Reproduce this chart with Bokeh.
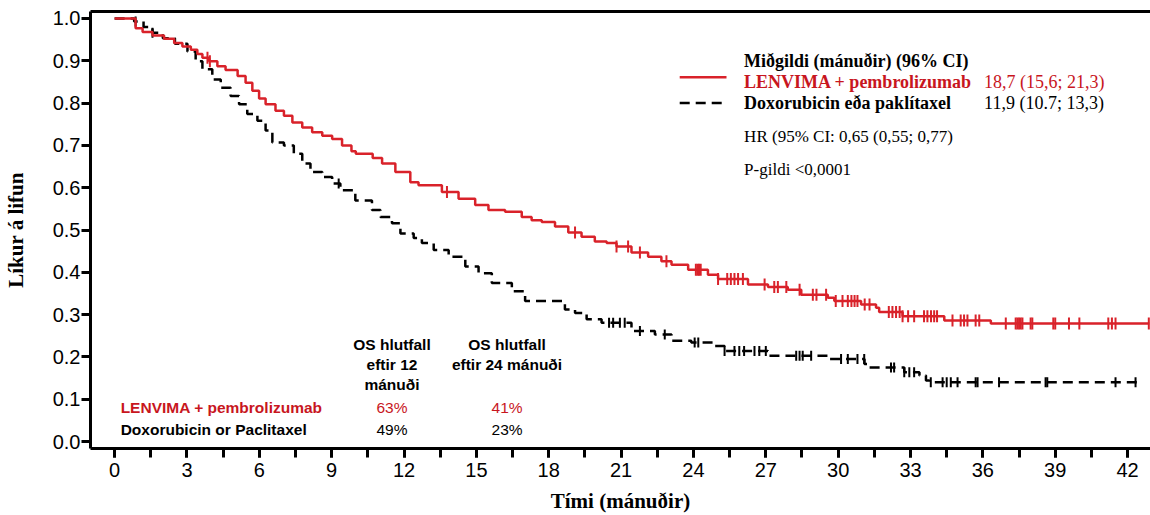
import numpy as np
from bokeh.plotting import figure
from bokeh.models import FixedTicker, LinearAxis, Range1d, NumeralTickFormatter
from bokeh.core.properties import value
from bokeh.embed import file_html
from bokeh.resources import INLINE

# ---------------- data ----------------
red_t = [0.0, 0.87, 1.16, 1.57, 2.05, 2.47, 2.81, 3.16, 3.43, 3.64, 3.92, 4.26, 4.60,
         5.10, 5.43, 5.71, 5.99, 6.26, 6.67, 7.02, 7.37, 7.78, 8.19, 8.61, 9.02, 9.43,
         9.82, 10.00, 10.70, 11.09, 11.64, 12.26, 12.60, 13.57, 14.26, 14.95, 15.50,
         16.19, 16.88, 17.29, 17.71, 18.26, 18.81, 19.36, 19.91, 20.40, 20.81, 21.43,
         22.12, 22.67, 23.09, 23.78, 24.60, 25.02, 26.26, 27.09, 27.91, 28.47, 29.57,
         29.84, 30.95, 31.57, 31.70, 32.67, 34.40, 36.33]
red_s = [1.000, 0.977, 0.968, 0.960, 0.952, 0.942, 0.934, 0.926, 0.916, 0.907, 0.899, 0.887, 0.878,
         0.864, 0.848, 0.829, 0.811, 0.797, 0.782, 0.770, 0.754, 0.742, 0.731, 0.723, 0.715, 0.700,
         0.686, 0.680, 0.670, 0.657, 0.637, 0.613, 0.606, 0.590, 0.574, 0.559, 0.547,
         0.543, 0.531, 0.523, 0.519, 0.508, 0.494, 0.484, 0.473, 0.469, 0.461, 0.447,
         0.437, 0.426, 0.418, 0.406, 0.394, 0.384, 0.371, 0.365, 0.359, 0.347, 0.340,
         0.332, 0.324, 0.316, 0.306, 0.296, 0.286, 0.279]
red_end = 42.9
red_censor = [3.85, 3.95, 13.78, 19.09, 20.81, 21.29, 21.78, 22.88, 24.10, 24.17, 24.23, 24.30,
              25.02, 25.40, 25.55, 25.70, 25.85, 26.05, 26.95, 27.35, 27.50, 27.85, 28.40, 28.95,
              29.10, 29.50, 29.90, 30.18, 30.40, 30.55, 30.68, 30.80, 31.10, 31.30, 32.10, 32.25,
              32.40, 32.55, 32.67, 32.90, 33.15, 33.56, 33.70, 33.85, 33.98, 34.10, 34.74, 35.08,
              35.22, 35.36, 35.70, 35.85, 36.95, 37.36, 37.43, 37.50, 37.57, 37.64, 37.98, 38.05,
              38.92, 39.00, 39.57, 40.00, 41.20, 41.35, 41.50, 42.88]

blk_t = [0.0, 0.81, 1.20, 1.57, 2.00, 2.50, 3.02, 3.36, 3.64, 4.05, 4.40, 4.81, 5.16, 5.50,
         5.92, 6.26, 6.54, 7.02, 7.43, 7.78, 8.12, 8.61, 9.02, 9.36, 9.98, 10.67, 11.02, 11.50,
         11.85, 12.40, 12.74, 13.23, 13.85, 14.54, 15.09, 15.64, 16.47, 17.02, 18.67, 19.09,
         19.57, 20.19, 21.43, 22.40, 23.09, 23.91, 24.88, 25.29, 27.09, 29.64, 31.09, 31.22,
         32.74, 33.37, 33.64, 33.78]
blk_s = [1.000, 0.993, 0.980, 0.966, 0.953, 0.940, 0.922, 0.899, 0.880, 0.856, 0.836, 0.817, 0.797, 0.774,
         0.758, 0.735, 0.707, 0.700, 0.680, 0.657, 0.637, 0.625, 0.610, 0.594, 0.570, 0.547, 0.531, 0.516,
         0.492, 0.481, 0.469, 0.453, 0.437, 0.414, 0.398, 0.375, 0.355, 0.332, 0.312, 0.304,
         0.289, 0.281, 0.261, 0.253, 0.238, 0.234, 0.226, 0.214, 0.203, 0.195, 0.183, 0.175,
         0.164, 0.156, 0.144, 0.140]
blk_end = 42.4
blk_censor = [0.87, 1.57, 9.29, 20.50, 20.67, 20.95, 21.15, 21.78, 22.81, 24.05, 24.20, 25.29,
              25.70, 25.90, 26.10, 26.53, 26.73, 27.00, 28.26, 28.40, 28.53, 28.88, 30.12, 30.40,
              30.80, 31.08, 32.19, 32.32, 32.74, 32.95, 33.15, 33.84, 34.33, 34.50, 34.67, 34.95,
              35.70, 35.78, 36.67, 38.60, 38.67, 41.50, 42.33]

x_ticks = list(range(0, 43, 3))
x_minor = [i * 1.5 for i in range(0, 29)]
y_ticks = [round(i * 0.1, 1) for i in range(0, 11)]

x_title = "Tími (mánuðir)"
y_title = "Líkur á lifun"
series_names = ["LENVIMA + pembrolizumab", "Doxorubicin eða paklítaxel"]
median_text = ["18,7 (15,6; 21,3)", "11,9 (10.7; 13,3)"]
legend_title = "Miðgildi (mánuðir) (96% CI)"
hr_text = "HR (95% CI: 0,65 (0,55; 0,77)"
p_text = "P-gildi <0,0001"

table_rows = ["LENVIMA + pembrolizumab", "Doxorubicin or Paclitaxel"]
table_12 = ["63%", "49%"]
table_24 = ["41%", "23%"]

RED_LINE = "#d9222a"
RED_TEXT = "#c8161e"

assert len(red_t) == len(red_s) and len(blk_t) == len(blk_s)

# ---------------- figure ----------------
p = figure(width=1150, height=515, x_range=Range1d(-1.0, 42.95), y_range=Range1d(-0.0165, 1.0165),
           output_backend="svg", toolbar_location=None,
           min_border_left=88, min_border_right=0, min_border_top=11, min_border_bottom=66)
p.grid.visible = False
p.outline_line_color = None
p.background_fill_color = "white"

xa = p.xaxis[0]
xa.ticker = FixedTicker(ticks=x_ticks, minor_ticks=x_minor)
ya = p.yaxis[0]
ya.ticker = FixedTicker(ticks=y_ticks, minor_ticks=[])
ya.formatter = NumeralTickFormatter(format="0.0")
for ax in (xa, ya):
    ax.axis_line_width = 3
    ax.axis_line_color = "black"
    ax.major_tick_line_width = 3
    ax.major_tick_out = 9
    ax.major_tick_in = 0
    ax.major_label_text_font = "Liberation Sans"
    ax.major_label_text_font_size = "20px"
    ax.major_label_text_color = "black"
    ax.axis_label_text_font = "Liberation Serif"
    ax.axis_label_text_font_style = "bold"
    ax.axis_label_text_font_size = "21px"
    ax.axis_label_text_color = "black"
xa.minor_tick_line_width = 3
xa.minor_tick_out = 9
xa.minor_tick_in = 0
xa.major_label_standoff = 5
xa.axis_label = x_title
xa.axis_label_standoff = 9
ya.minor_tick_line_color = None
ya.major_label_standoff = 1
ya.axis_label = y_title
ya.axis_label_standoff = 22

top = LinearAxis(ticker=FixedTicker(ticks=[]), axis_line_width=3, major_tick_line_color=None,
                 minor_tick_line_color=None, major_label_text_font_size="0px")
p.add_layout(top, "above")

# ---------------- curves ----------------
def step_xy(t, s, end):
    return list(t) + [end], list(s) + [s[-1]]

def censor_y(t, s, c):
    idx = np.searchsorted(np.array(t), np.array(c), side="right") - 1
    return list(np.array(s)[idx])

bx, by = step_xy(blk_t, blk_s, blk_end)
p.step(bx, by, mode="after", line_color="black", line_width=2.5, line_dash="10 6")
p.scatter(blk_censor, censor_y(blk_t, blk_s, blk_censor), marker="dash", angle=np.pi / 2,
          size=10, line_color="black", line_width=2)

rx, ry = step_xy(red_t, red_s, red_end)
p.step(rx, ry, mode="after", line_color=RED_LINE, line_width=2.5)
p.scatter(red_censor, censor_y(red_t, red_s, red_censor), marker="dash", angle=np.pi / 2,
          size=12, line_color=RED_LINE, line_width=2)

# ---------------- legend block (upper right) ----------------
serif = value("Liberation Serif")
sans = value("Liberation Sans")
lx = 26.1
d = 0.0165
p.text([lx], [0.882 + d], text=[legend_title], text_font=serif, text_font_style="bold",
       text_font_size="18px", text_color="black", text_baseline="alphabetic")
p.text([lx], [0.834 + d], text=[series_names[0]], text_font=serif, text_font_style="bold",
       text_font_size="18px", text_color=RED_TEXT, text_baseline="alphabetic")
p.text([lx], [0.783 + d], text=[series_names[1]], text_font=serif, text_font_style="bold",
       text_font_size="18px", text_color="black", text_baseline="alphabetic")
p.text([36.05], [0.834 + d], text=[median_text[0]], text_font=serif,
       text_font_size="18px", text_color=RED_TEXT, text_baseline="alphabetic")
p.text([36.05], [0.783 + d], text=[median_text[1]], text_font=serif,
       text_font_size="18px", text_color="black", text_baseline="alphabetic")
p.text([lx], [0.705 + d], text=[hr_text], text_font=serif,
       text_font_size="17px", text_color="black", text_baseline="alphabetic")
p.text([lx], [0.627 + d], text=[p_text], text_font=serif,
       text_font_size="17px", text_color="black", text_baseline="alphabetic")
p.line([23.43, 25.37], [0.861, 0.861], line_color=RED_LINE, line_width=2.5)
p.line([23.43, 25.3], [0.800, 0.800], line_color="black", line_width=2.5, line_dash="10 6")

# ---------------- table (lower left) ----------------
hdr = dict(text_font=sans, text_font_style="bold", text_font_size="15.5px", text_color="black",
           text_align="center", text_baseline="middle")
p.text([11.5, 11.5, 11.5], [0.229, 0.182, 0.134], text=["OS hlutfall", "eftir 12", "mánuði"], **hdr)
p.text([16.27, 16.27], [0.229, 0.182], text=["OS hlutfall", "eftir 24 mánuði"], **hdr)
p.text([0.25], [0.080], text=[table_rows[0]], text_font=sans, text_font_style="bold",
       text_font_size="15.5px", text_color=RED_TEXT, text_baseline="middle")
p.text([0.25], [0.028], text=[table_rows[1]], text_font=sans, text_font_style="bold",
       text_font_size="15.5px", text_color="black", text_baseline="middle")
p.text([11.5, 16.27], [0.080, 0.080], text=[table_12[0], table_24[0]], text_font=sans,
       text_font_size="15.5px", text_color=RED_TEXT, text_align="center", text_baseline="middle")
p.text([11.5, 16.27], [0.028, 0.028], text=[table_12[1], table_24[1]], text_font=sans,
       text_font_size="15.5px", text_color="black", text_align="center", text_baseline="middle")

open("out.html", "w").write(file_html(p, INLINE))
